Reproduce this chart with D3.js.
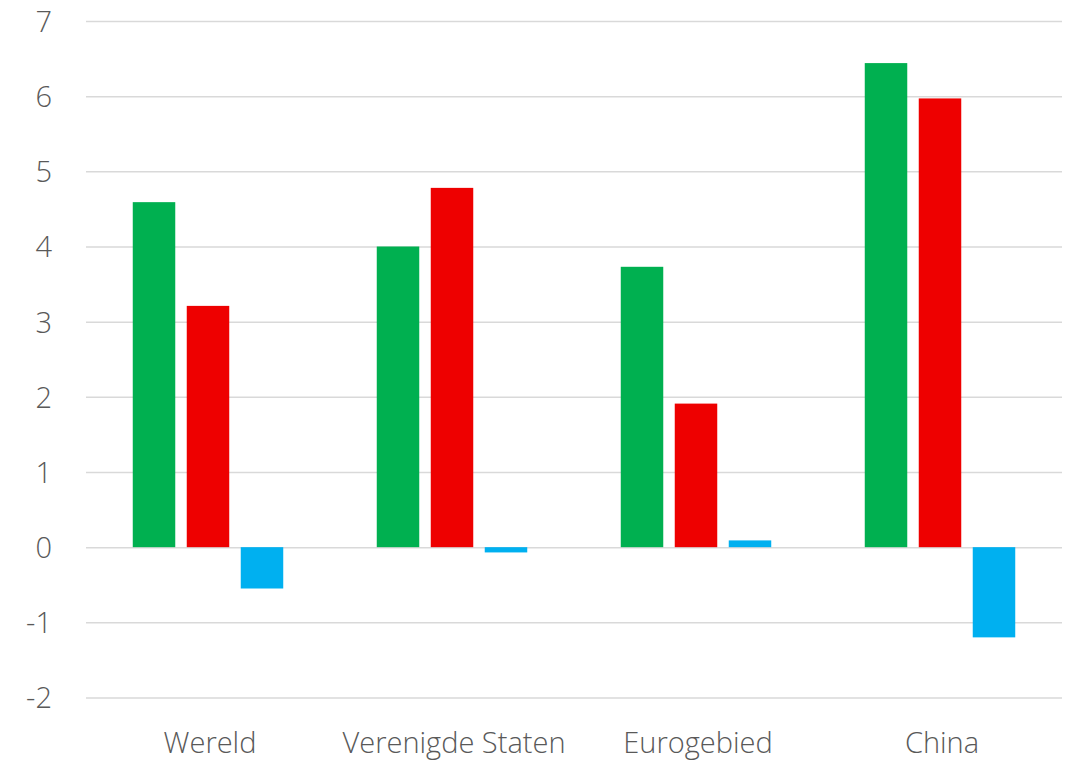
<!DOCTYPE html>
<html>
<head>
<meta charset="utf-8">
<script src="https://cdn.jsdelivr.net/npm/d3@7"></script>
<style>
  html, body { margin: 0; padding: 0; background: #fff; }
  svg { display: block; }
  svg text { font-family: "Open Sans", "Noto Sans", sans-serif; }
</style>
</head>
<body>
<svg id="chart" width="1074" height="762"></svg>
<script>
const categories = ["Wereld", "Verenigde Staten", "Eurogebied", "China"];
const seriesNames = ["A", "B", "C"];
const seriesA = [4.59, 4.00, 3.73, 6.44];
const seriesB = [3.21, 4.78, 1.91, 5.97];
const seriesC = [-0.55, -0.07, 0.09, -1.20];
const yTicks = [-2, -1, 0, 1, 2, 3, 4, 5, 6, 7];
const colors = ["#00B050", "#EE0000", "#00B0F0"];

const svg = d3.select("#chart");
const plotLeft = 86, plotRight = 1062, plotTop = 21, plotBottom = 697.5;
const fontStack = '"Open Sans", "Noto Sans", sans-serif';

const x0 = d3.scaleBand().domain(categories).range([plotLeft, plotRight]).padding(0);
const x1 = d3.scaleBand().domain(seriesNames).range([0, x0.bandwidth()])
  .paddingInner(0.213).paddingOuter(0.866);
const y = d3.scaleLinear().domain([-2, 7]).range([plotBottom, plotTop]);

// gridlines + y tick labels
const yAxis = d3.axisLeft(y).tickValues(yTicks).tickSize(-(plotRight - plotLeft)).tickFormat(d => d);
const gy = svg.append("g").attr("transform", `translate(${plotLeft},0)`).call(yAxis)
  .attr("font-family", fontStack);
gy.select(".domain").remove();
gy.selectAll(".tick line").attr("stroke", "#D9D9D9").attr("stroke-width", 1.5);
gy.selectAll(".tick text")
  .attr("x", -34)
  .attr("dy", "0.36em")
  .attr("fill", "#595959")
  .style("font-family", fontStack)
  .style("font-size", "29px")
  .style("font-weight", 300);

const data = [seriesA, seriesB, seriesC];
const rows = categories.map((c, i) => ({
  cat: c,
  vals: seriesNames.map((s, j) => ({ s, v: data[j][i], col: colors[j] }))
}));

const groups = svg.append("g").selectAll("g").data(rows).join("g")
  .attr("transform", d => `translate(${x0(d.cat)},0)`);
groups.selectAll("rect").data(d => d.vals).join("rect")
  .attr("x", d => x1(d.s))
  .attr("width", x1.bandwidth())
  .attr("y", d => y(Math.max(0, d.v)))
  .attr("height", d => Math.abs(y(d.v) - y(0)))
  .attr("fill", d => d.col);

// category labels
const xAxis = d3.axisBottom(x0).tickSize(0);
const gx = svg.append("g").attr("transform", `translate(0,${plotBottom})`).call(xAxis)
  .attr("font-family", fontStack);
gx.select(".domain").remove();
gx.selectAll(".tick text")
  .attr("x", 2)
  .attr("y", 0)
  .attr("dy", "55px")
  .attr("fill", "#595959")
  .style("font-family", fontStack)
  .style("font-size", "29px")
  .style("font-weight", 300);
</script>
</body>
</html>
